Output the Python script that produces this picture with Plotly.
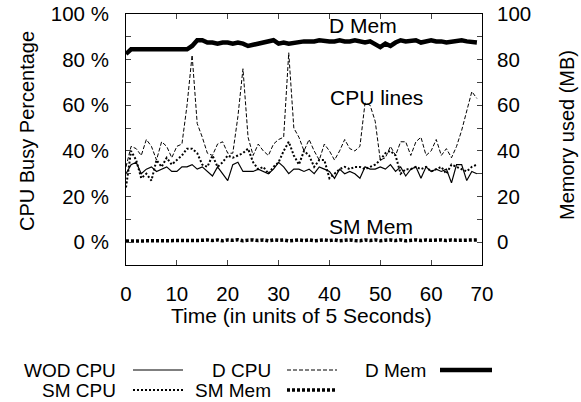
import plotly.graph_objects as go

# ---------------- data ----------------
time = list(range(70))

wod_cpu = [30, 34, 35, 30, 32, 33, 31, 32, 33, 31,
           31, 33, 33, 34, 32, 33, 31, 29, 33, 30,
           27, 34, 35, 31, 31, 31, 32, 31, 30, 32,
           35, 33, 30, 32, 32, 31, 32, 30, 33, 32,
           31, 28, 32, 30, 31, 30, 28, 33, 32, 32,
           33, 32, 34, 31, 33, 29, 32, 33, 28, 33,
           31, 32, 31, 32, 26, 34, 34, 27, 31, 30]

d_cpu = [33, 42, 41, 38, 45, 42, 36, 44, 42, 37,
         42, 43, 60, 82, 52, 46, 39, 38, 43, 44,
         39, 39, 55, 76, 46, 38, 43, 40, 38, 43,
         45, 46, 83, 50, 46, 40, 45, 40, 36, 43,
         40, 36, 40, 45, 41, 40, 42, 61, 60, 53,
         36, 37, 42, 38, 44, 44, 38, 44, 46, 38,
         40, 45, 38, 41, 37, 42, 49, 58, 66, 63]

sm_cpu = [24, 40, 36, 28, 30, 27, 36, 33, 37, 34,
          36, 38, 41, 41, 39, 34, 33, 38, 33, 35,
          38, 37, 38, 39, 41, 35, 32, 33, 30, 33,
          35, 40, 44, 38, 34, 40, 38, 33, 36, 36,
          28, 30, 32, 33, 32, 33, 33, 32, 33, 34,
          36, 39, 40, 38, 30, 32, 32, 33, 32, 33,
          31, 32, 33, 30, 34, 33, 32, 31, 33, 34]

d_mem = [82.5, 84.5, 84.5, 84.5, 84.5, 84.5, 84.5, 84.5, 84.5, 84.5,
         84.5, 84.5, 84.5, 86, 88.5, 88.5, 87.5, 87.5, 87, 87.5,
         87.5, 87, 87.5, 87, 86, 86.5, 87, 87, 88, 88.5,
         87, 87.5, 87, 87.5, 87.5, 88, 88, 88, 88.5, 88,
         88, 88, 88.5, 88, 88, 88.5, 88, 87.5, 88, 87,
         85.5, 87, 86, 87.5, 88.5, 88, 88.5, 88.5, 87.5, 88,
         88.5, 88, 88, 87.5, 88, 88, 88.5, 88, 87.5, 87.5]

sm_mem = [0.5, 0.5, 0.5, 0.5, 0.5, 0.5, 0.5, 0.5, 0.5, 0.5,
          0.5, 0.5, 0.5, 0.5, 0.5, 0.8, 1.0, 0.7, 1.0, 0.6,
          1.0, 0.8, 1.1, 0.6, 0.9, 1.0, 0.7, 1.0, 0.6, 1.0,
          0.8, 1.0, 0.6, 0.9, 1.0, 0.7, 1.0, 0.6, 0.9, 1.0,
          0.7, 1.0, 0.6, 0.9, 1.0, 0.7, 0.6, 1.0, 0.7, 1.0,
          0.6, 0.9, 1.0, 0.7, 1.0, 0.6, 0.9, 1.0, 0.7, 1.0,
          0.8, 0.9, 1.0, 0.7, 1.0, 0.8, 0.9, 1.0, 0.8, 1.0]

x_ticks = [0, 10, 20, 30, 40, 50, 60, 70]
y_ticks = [0, 10, 20, 30, 40, 50, 60, 70, 80, 90, 100]
y_left_labels = ["0 %", "", "20 %", "", "40 %", "", "60 %", "", "80 %", "", "100 %"]
y_right_labels = ["0", "", "20", "", "40", "", "60", "", "80", "", "100"]

# ---------------- layout constants ----------------
W, H = 581, 402
ML, MR, MT, MB = 126, 99, 14, 137
PW, PH = W - ML - MR, H - MT - MB
FONT = "Liberation Sans, Arial, Helvetica, sans-serif"
FS = 20.5


def px(xs):
    return (xs - ML) / PW


def py(ys):
    return (H - MB - ys) / PH


styles = {
    "WOD CPU": dict(color="black", width=1.2, dash="solid"),
    "D CPU": dict(color="black", width=1, dash="4px,2px"),
    "D Mem": dict(color="black", width=4.5, dash="solid"),
    "SM CPU": dict(color="black", width=2, dash="2px,2px"),
    "SM Mem": dict(color="black", width=3.5, dash="3px,2px"),
}

fig = go.Figure()
fig.add_trace(go.Scatter(x=time, y=wod_cpu, mode="lines", name="WOD CPU",
                         line=styles["WOD CPU"], yaxis="y"))
fig.add_trace(go.Scatter(x=time, y=d_cpu, mode="lines", name="D CPU",
                         line=styles["D CPU"], yaxis="y"))
fig.add_trace(go.Scatter(x=time, y=d_mem, mode="lines", name="D Mem",
                         line=styles["D Mem"], yaxis="y2"))
fig.add_trace(go.Scatter(x=time, y=sm_cpu, mode="lines", name="SM CPU",
                         line=styles["SM CPU"], yaxis="y"))
fig.add_trace(go.Scatter(x=time, y=sm_mem, mode="lines", name="SM Mem",
                         line=styles["SM Mem"], yaxis="y2"))

ctr = dict(xanchor="center", yanchor="middle", showarrow=False)
big = dict(size=21)
annotations = [
    dict(text="D Mem", x=46.6, y=95, xref="x", yref="y", font=big, **ctr),
    dict(text="CPU lines", x=49.2, y=63.6, xref="x", yref="y", font=big, **ctr),
    dict(text="SM Mem", x=48.2, y=7.0, xref="x", yref="y", font=big, **ctr),
    dict(text="Time (in units of 5 Seconds)", x=px(301.5), y=py(315),
         xref="paper", yref="paper", font=big, **ctr),
    dict(text="CPU Busy Percentage", x=px(27), y=py(131), textangle=-90,
         xref="paper", yref="paper", font=dict(size=20), **ctr),
    dict(text="Memory used (MB)", x=px(567), y=py(135), textangle=-90,
         xref="paper", yref="paper", font=dict(size=20), **ctr),
]

# custom gnuplot-style key: text, then line sample
key = [
    ("WOD CPU", 118, 133, 183, 370),
    ("D CPU", 273, 287, 337, 370),
    ("D Mem", 428, 440, 492, 370),
    ("SM CPU", 118, 133, 183, 390),
    ("SM Mem", 273, 287, 337, 390),
]
shapes = []
for name, tx, l0, l1, yy in key:
    annotations.append(dict(text=name, x=px(tx), y=py(yy), xref="paper", yref="paper",
                            xanchor="right", yanchor="middle", showarrow=False,
                            font=dict(size=19)))
    st = styles[name]
    shapes.append(dict(type="line", xref="paper", yref="paper",
                       x0=px(l0), x1=px(l1), y0=py(yy), y1=py(yy),
                       line=dict(color="black", width=st["width"], dash=st["dash"])))

fig.update_layout(
    template="none",
    width=W, height=H,
    margin=dict(l=ML, r=MR, t=MT, b=MB, pad=0, autoexpand=False),
    paper_bgcolor="white", plot_bgcolor="white",
    font=dict(family=FONT, size=FS, color="black"),
    showlegend=False,
    hovermode=False,
    annotations=annotations,
    shapes=shapes,
    xaxis=dict(range=[0, 70], tickvals=x_ticks, ticks="inside", ticklen=5,
               showline=True, linecolor="black", linewidth=1, mirror="ticks",
               showgrid=False, zeroline=False, ticklabelstandoff=10,
               automargin=False, ticklabeloverflow="allow", tickfont=dict(size=FS)),
    yaxis=dict(range=[-10, 100], tickvals=y_ticks, ticktext=y_left_labels,
               ticks="inside", ticklen=5, showline=True, linecolor="black",
               linewidth=1, mirror=True, showgrid=False, zeroline=False,
               ticklabelstandoff=12, automargin=False, ticklabeloverflow="allow",
               tickfont=dict(size=FS)),
    yaxis2=dict(range=[-10, 100], tickvals=y_ticks, ticktext=y_right_labels,
                overlaying="y", side="right", ticks="inside", ticklen=5,
                showline=False, showgrid=False, zeroline=False,
                ticklabelstandoff=14, automargin=False, ticklabeloverflow="allow",
                tickfont=dict(size=FS)),
)

fig.write_html("out.html", config={"displayModeBar": False, "staticPlot": True},
               post_script="document.body.style.margin='0px';")
